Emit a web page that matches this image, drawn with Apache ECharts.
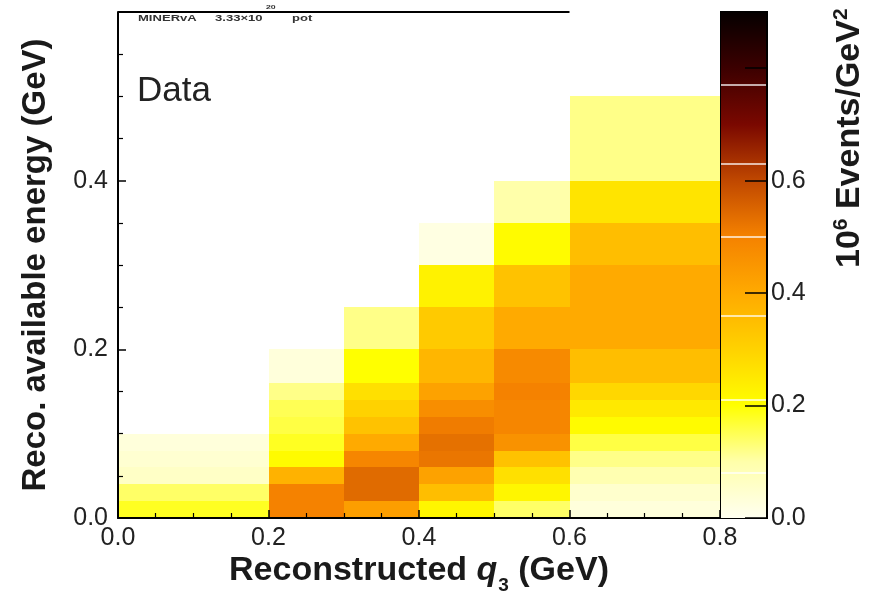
<!DOCTYPE html>
<html>
<head>
<meta charset="utf-8">
<script src="https://cdn.jsdelivr.net/npm/echarts@6/dist/echarts.min.js"></script>
<style>
  html, body { margin: 0; padding: 0; background: #fff; }
  #chart { width: 877px; height: 594px; }
</style>
</head>
<body>
<div id="chart"></div>
<script>
// Bin edges (GeV)
const q3Edges = [0.0, 0.2, 0.3, 0.4, 0.5, 0.6, 0.8];
const eAvailEdges = [0.00, 0.02, 0.04, 0.06, 0.08, 0.10, 0.12, 0.14, 0.16, 0.20, 0.25, 0.30, 0.35, 0.40, 0.50];

// Event density (10^6 events/GeV^2), one array per q3 bin, lowest Eavail bin first
const q3_000_020 = [0.18, 0.14, 0.06, 0.045, 0.03];
const q3_020_030 = [0.50, 0.50, 0.38, 0.21, 0.18, 0.16, 0.15, 0.12, 0.03];
const q3_030_040 = [0.43, 0.54, 0.54, 0.49, 0.40, 0.34, 0.30, 0.27, 0.20, 0.12];
const q3_040_050 = [0.22, 0.35, 0.42, 0.52, 0.53, 0.51, 0.47, 0.42, 0.37, 0.32, 0.23, 0.02];
const q3_050_060 = [0.14, 0.22, 0.27, 0.34, 0.46, 0.49, 0.49, 0.50, 0.48, 0.40, 0.34, 0.21, 0.10];
const q3_060_080 = [0.03, 0.05, 0.09, 0.12, 0.16, 0.21, 0.25, 0.29, 0.35, 0.40, 0.40, 0.35, 0.26, 0.12];

// Axis ticks
const xTicks = [0.0, 0.2, 0.4, 0.6, 0.8];
const yTicks = [0.0, 0.2, 0.4];
const zTicks = [0.0, 0.2, 0.4, 0.6];

// Colour scale: evenly spaced stops from zMin to zMax
const zMin = 0.0;
const zMax = 0.9;
const palette = ['#fffff0', '#ffffaa', '#ffff00', '#ffd200', '#ffaa00',
                 '#f58200', '#c04800', '#7a0800', '#3c0000', '#050000'];
// Light band separators drawn on the colour bar
const zBandEdges = [0.076, 0.211, 0.363, 0.496, 0.630, 0.773];

const columns = [q3_000_020, q3_020_030, q3_030_040, q3_040_050, q3_050_060, q3_060_080];
const cells = [];
columns.forEach((vals, i) => {
  vals.forEach((v, j) => {
    cells.push([q3Edges[i], q3Edges[i + 1], eAvailEdges[j], eAvailEdges[j + 1], v]);
  });
});

const FONT = '"Liberation Sans", Arial, Helvetica, sans-serif';
const INK = '#1a1a1a';
const fmt1 = v => (Math.abs(v) < 1e-9 ? 0 : v).toFixed(1);

const chart = echarts.init(document.getElementById('chart'), null, { renderer: 'canvas' });

const option = {
  animation: false,
  backgroundColor: '#fff',
  textStyle: { fontFamily: FONT },
  grid: [
    { left: 118, top: 12, right: 157, bottom: 76, containLabel: false, outerBoundsMode: 'none' },
    { left: 721, top: 12, width: 46, bottom: 76, containLabel: false, outerBoundsMode: 'none',
      show: true, borderColor: '#000', borderWidth: 2, backgroundColor: 'transparent' }
  ],
  xAxis: [
    {
      gridIndex: 0, type: 'value', min: xTicks[0], max: xTicks[xTicks.length - 1], interval: 0.2,
      z: 10,
      axisLine: { show: true, onZero: false, lineStyle: { color: '#000', width: 2 } },
      axisTick: { show: true, inside: true, length: 8, lineStyle: { color: '#000', width: 1.5 } },
      minorTick: { show: true, splitNumber: 4, length: 5, lineStyle: { color: '#000', width: 1.2 } },
      splitLine: { show: false },
      axisLabel: { fontSize: 25, color: '#222', margin: 8, fontFamily: FONT, formatter: fmt1 },
      name: '{b|Reconstructed }{q|q}{s|3}{b| (GeV)}',
      nameLocation: 'middle',
      nameMoveOverlap: false,
      nameGap: 34,
      nameTextStyle: {
        verticalAlign: 'top',
        rich: {
          b: { fontSize: 34, fontWeight: 'bold', color: INK, fontFamily: FONT, lineHeight: 38 },
          q: { fontSize: 34, fontWeight: 'bold', fontStyle: 'italic', color: INK, fontFamily: FONT, lineHeight: 38 },
          s: { fontSize: 19, fontWeight: 'bold', color: INK, fontFamily: FONT, lineHeight: 19,
               verticalAlign: 'top', padding: [24, 0, 0, 1] }
        }
      }
    },
    { gridIndex: 1, type: 'value', min: 0, max: 1, show: false }
  ],
  yAxis: [
    {
      gridIndex: 0, type: 'value', min: 0, max: 0.6, interval: 0.2,
      z: 10,
      axisLine: { show: true, onZero: false, lineStyle: { color: '#000', width: 2 } },
      axisTick: { show: true, inside: true, length: 8, lineStyle: { color: '#000', width: 1.5 } },
      minorTick: { show: true, splitNumber: 4, length: 5, lineStyle: { color: '#000', width: 1.2 } },
      splitLine: { show: false },
      axisLabel: {
        fontSize: 25, color: '#222', margin: 10, fontFamily: FONT,
        formatter: v => (yTicks.some(t => Math.abs(t - v) < 1e-9) ? fmt1(v) : '')
      },
      name: 'Reco. available energy (GeV)',
      nameLocation: 'middle',
      nameRotate: 90,
      nameGap: 66,
      nameTextStyle: { fontSize: 33, fontWeight: 'bold', color: INK, fontFamily: FONT }
    },
    {
      gridIndex: 1, type: 'value', min: zMin, max: zMax, interval: 0.2, position: 'right',
      z: 10,
      axisLine: { show: true, onZero: false, lineStyle: { color: '#000', width: 2 } },
      axisTick: { show: true, inside: true, length: 22, lineStyle: { color: '#000', width: 1.5 } },
      splitLine: { show: false },
      axisLabel: {
        fontSize: 25, color: '#222', margin: 4, fontFamily: FONT,
        formatter: v => (zTicks.some(t => Math.abs(t - v) < 1e-9) ? fmt1(v) : '')
      }
    }
  ],
  visualMap: {
    show: false,
    type: 'continuous',
    seriesIndex: 0,
    dimension: 4,
    min: zMin,
    max: zMax,
    inRange: { color: palette }
  },
  series: [
    {
      type: 'custom',
      xAxisIndex: 0, yAxisIndex: 0,
      encode: { x: [0, 1], y: [2, 3] },
      data: cells,
      renderItem(params, api) {
        const a = api.coord([api.value(0), api.value(2)]);
        const b = api.coord([api.value(1), api.value(3)]);
        const x0 = Math.round(a[0]), x1 = Math.round(b[0]);
        const y0 = Math.round(a[1]), y1 = Math.round(b[1]);
        return {
          type: 'rect',
          shape: { x: x0, y: y1, width: x1 - x0, height: y0 - y1 },
          style: { fill: api.visual('color') }
        };
      },
      markLine: {
        silent: true,
        symbol: ['none', 'none'],
        label: { show: false },
        lineStyle: { color: '#000', width: 2, type: 'solid' },
        data: [[{ coord: [0.0, 0.6] }, { coord: [0.6, 0.6] }]]
      }
    },
    {
      type: 'custom',
      xAxisIndex: 1, yAxisIndex: 1,
      encode: { x: 0, y: 1 },
      data: [[0, zMax]],
      renderItem(params, api) {
        const a = api.coord([0, zMin]);
        const b = api.coord([1, zMax]);
        const stops = palette.map((c, i) => ({ offset: i / (palette.length - 1), color: c }));
        return {
          type: 'rect',
          shape: { x: a[0], y: b[1], width: b[0] - a[0], height: a[1] - b[1] },
          style: { fill: new echarts.graphic.LinearGradient(0, 1, 0, 0, stops) }
        };
      },
      markLine: {
        silent: true,
        symbol: ['none', 'none'],
        label: { show: false },
        lineStyle: { color: '#fff', width: 1.5, type: 'solid', opacity: 0.9 },
        data: zBandEdges.map(v => ({ yAxis: v }))
      }
    }
  ],
  graphic: [
    {
      type: 'text', x: 137, y: 91,
      style: { text: 'Data', font: '35px ' + FONT, fill: '#222', textVerticalAlign: 'middle' }
    },
    {
      type: 'text', x: 138, y: 19, scaleX: 1.45,
      style: { text: 'MINERvA', font: 'bold 9px ' + FONT, fill: '#333', textVerticalAlign: 'middle' }
    },
    {
      type: 'text', x: 215, y: 19, scaleX: 1.45,
      style: { text: '3.33\u00d710', font: 'bold 9px ' + FONT, fill: '#333', textVerticalAlign: 'middle' }
    },
    {
      type: 'text', x: 266, y: 7, scaleX: 1.45,
      style: { text: '20', font: 'bold 6px ' + FONT, fill: '#333', textVerticalAlign: 'middle' }
    },
    {
      type: 'text', x: 292, y: 19, scaleX: 1.45,
      style: { text: 'pot', font: 'bold 9px ' + FONT, fill: '#333', textVerticalAlign: 'middle' }
    },
    {
      type: 'text', x: 850, y: 268, rotation: Math.PI / 2,
      style: {
        text: '{b|10}{p|6}{b| Events/GeV}{p|2}',
        textAlign: 'left', textVerticalAlign: 'middle',
        rich: {
          b: { fontSize: 34, fontWeight: 'bold', fill: INK, fontFamily: FONT, lineHeight: 38 },
          p: { fontSize: 21, fontWeight: 'bold', fill: INK, fontFamily: FONT, lineHeight: 21, verticalAlign: 'top' }
        }
      }
    }
  ]
};

chart.setOption(option);
</script>
</body>
</html>
